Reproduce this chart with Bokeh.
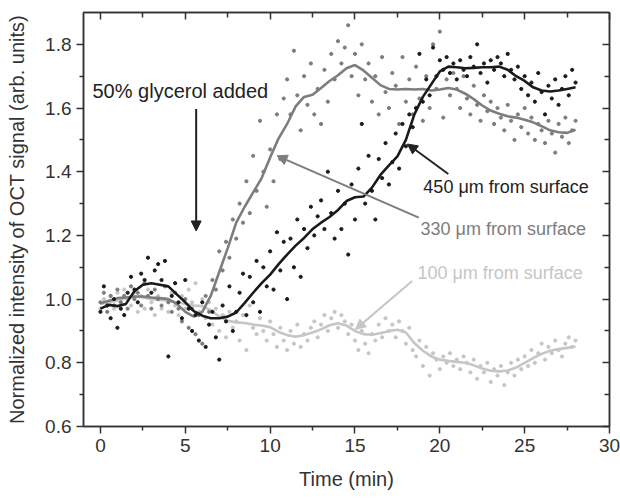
import numpy as np
from bokeh.plotting import figure
from bokeh.models import (LinearAxis, Range1d, Arrow, NormalHead, Label,
                          FixedTicker, PrintfTickFormatter, CustomJSTickFormatter)
from bokeh.embed import file_html
from bokeh.resources import INLINE

# ---------------- data ----------------
# smoothed curves, sampled every 0.5 min from 0 to 28 min
LINE_T = [0.5 * i for i in range(57)]
LINE_450 = [0.970, 0.982, 0.978, 0.985, 1.025, 1.045, 1.050, 1.045, 1.040, 1.015,
            0.990, 0.962, 0.948, 0.940, 0.940, 0.945, 0.958, 0.988, 1.020, 1.050,
            1.077, 1.110, 1.140, 1.168, 1.192, 1.220, 1.240, 1.258, 1.280, 1.308,
            1.320, 1.322, 1.350, 1.390, 1.420, 1.448, 1.500, 1.580, 1.635, 1.675,
            1.715, 1.730, 1.728, 1.725, 1.726, 1.728, 1.728, 1.730, 1.720, 1.700,
            1.685, 1.665, 1.655, 1.652, 1.655, 1.660, 1.665]
LINE_330 = [0.987, 0.995, 1.003, 1.005, 1.008, 1.008, 1.005, 1.003, 1.000, 0.985,
            0.960, 0.945, 0.960, 1.010, 1.085, 1.160, 1.240, 1.290, 1.335, 1.380,
            1.445, 1.505, 1.550, 1.605, 1.635, 1.642, 1.663, 1.685, 1.703, 1.725,
            1.735, 1.718, 1.695, 1.672, 1.660, 1.658, 1.660, 1.658, 1.660, 1.655,
            1.658, 1.663, 1.658, 1.645, 1.628, 1.608, 1.592, 1.582, 1.574, 1.570,
            1.563, 1.555, 1.543, 1.530, 1.524, 1.522, 1.532]
LINE_100 = [0.985, 0.990, 0.995, 1.003, 1.008, 1.005, 1.000, 0.997, 0.995, 0.990,
            0.985, 0.980, 0.978, 0.965, 0.945, 0.932, 0.927, 0.925, 0.920, 0.917,
            0.912, 0.897, 0.887, 0.882, 0.887, 0.895, 0.905, 0.918, 0.924, 0.917,
            0.900, 0.890, 0.888, 0.893, 0.900, 0.904, 0.895, 0.862, 0.838, 0.820,
            0.810, 0.806, 0.803, 0.800, 0.792, 0.782, 0.775, 0.773, 0.776, 0.785,
            0.800, 0.815, 0.828, 0.838, 0.843, 0.847, 0.851]

# raw measurements, one every 0.2 min from 0 to 28 min
PTS_450 = [0.96, 1.04, 0.98, 0.94, 1.00, 0.91, 0.97, 0.95, 1.02, 1.07,
           1.03, 0.99, 1.08, 1.06, 1.13, 1.02, 1.09, 1.11, 1.06, 1.12,
           0.82, 1.01, 1.05, 0.99, 0.94, 1.06, 0.97, 0.90, 0.95, 0.87,
           0.99, 0.85, 0.92, 0.96, 0.88, 0.81, 0.98, 0.93, 1.04, 0.90,
           0.96, 1.02, 1.08, 0.95, 1.07, 0.99, 1.12, 0.96, 1.10, 1.04,
           1.15, 1.03, 1.21, 1.09, 1.18, 1.00, 1.19, 1.10, 1.25, 1.07,
           1.22, 1.16, 1.29, 1.20, 1.26, 1.31, 1.22, 1.40, 1.27, 1.19,
           1.34, 1.22, 1.30, 1.14, 1.36, 1.25, 1.41, 1.55, 1.30, 1.45,
           1.34, 1.25, 1.44, 1.38, 1.49, 1.36, 1.43, 1.52, 1.41, 1.55,
           1.48, 1.58, 1.54, 1.60, 1.77, 1.62, 1.69, 1.64, 1.79, 1.70,
           1.75, 1.72, 1.76, 1.71, 1.74, 1.69, 1.75, 1.72, 1.70, 1.76,
           1.73, 1.80, 1.71, 1.74, 1.68, 1.75, 1.72, 1.76, 1.74, 1.70,
           1.77, 1.72, 1.69, 1.73, 1.66, 1.70, 1.64, 1.68, 1.62, 1.71,
           1.65, 1.58, 1.67, 1.63, 1.69, 1.61, 1.66, 1.70, 1.64, 1.72,
           1.68]
PTS_330 = [0.99, 1.02, 0.96, 1.01, 0.98, 1.03, 0.99, 1.01, 0.97, 1.04,
           1.00, 1.02, 0.98, 1.05, 1.01, 0.97, 1.03, 1.00, 0.98, 1.04,
           0.99, 0.96, 1.02, 0.97, 0.93, 1.00, 0.91, 0.97, 0.89, 0.95,
           0.86, 1.01, 0.96, 1.06, 1.03, 1.15, 1.09, 1.18, 1.13, 1.25,
           1.19, 1.30, 1.24, 1.37, 1.27, 1.45, 1.34, 1.56, 1.40, 1.29,
           1.47, 1.37, 1.58, 1.44, 1.63, 1.69, 1.58, 1.78, 1.64, 1.53,
           1.70, 1.61, 1.74, 1.58, 1.66, 1.55, 1.72, 1.62, 1.77, 1.69,
           1.81, 1.74, 1.79, 1.86, 1.70, 1.77, 1.64, 1.80, 1.69, 1.74,
           1.62, 1.70, 1.58, 1.76, 1.65, 1.60, 1.71, 1.67, 1.55, 1.76,
           1.62, 1.69, 1.58, 1.73, 1.63, 1.56, 1.70, 1.60, 1.80, 1.66,
           1.84, 1.57, 1.69, 1.64, 1.71, 1.66, 1.60, 1.70, 1.63, 1.58,
           1.67, 1.61, 1.56, 1.64, 1.59, 1.62, 1.55, 1.60, 1.57, 1.53,
           1.61, 1.56, 1.50, 1.58, 1.54, 1.60, 1.52, 1.57, 1.50, 1.55,
           1.53, 1.49, 1.56, 1.52, 1.46, 1.55, 1.51, 1.57, 1.49, 1.53,
           1.56]
PTS_100 = [0.97, 1.00, 0.98, 1.01, 0.97, 1.02, 0.99, 1.03, 1.00, 0.98,
           1.02, 0.96, 1.01, 0.97, 1.03, 0.99, 0.95, 1.01, 0.97, 1.00,
           0.96, 1.02, 0.98, 0.95, 1.01, 0.97, 1.03, 0.99, 1.05, 0.96,
           1.00, 0.94, 0.99, 0.92, 0.97, 0.90, 0.95, 0.88, 0.96, 0.91,
           0.93, 0.87, 0.95, 0.84, 0.98, 0.91, 0.89, 0.94, 0.90, 0.87,
           0.93, 0.89, 0.85, 0.91, 0.87, 0.84, 0.90, 0.86, 0.92, 0.85,
           0.89, 0.87, 0.91, 0.93, 0.88, 0.92, 0.95, 0.90, 0.94, 0.96,
           0.91, 0.95, 0.93, 0.89, 0.92, 0.87, 0.84, 0.90, 0.86, 0.83,
           0.89, 0.87, 0.92, 0.88, 0.94, 0.90, 0.92, 0.88, 0.93, 0.90,
           0.86, 0.91, 0.84, 0.82, 0.87, 0.79, 0.85, 0.76, 0.83, 0.81,
           0.78, 0.82, 0.80, 0.83, 0.79, 0.81, 0.78, 0.82, 0.80, 0.77,
           0.81, 0.75, 0.79, 0.77, 0.80, 0.74, 0.78, 0.76, 0.79, 0.73,
           0.77, 0.80, 0.76, 0.81, 0.78, 0.82, 0.79, 0.84, 0.80, 0.83,
           0.86, 0.81, 0.85, 0.83, 0.87, 0.84, 0.82, 0.86, 0.88, 0.85,
           0.87]

X_TICKS = [0, 5, 10, 15, 20, 25, 30]
X_MINOR = [2.5, 7.5, 12.5, 17.5, 22.5, 27.5]
Y_TICKS = [0.6, 0.8, 1.0, 1.2, 1.4, 1.6, 1.8]
Y_MINOR = [0.7, 0.9, 1.1, 1.3, 1.5, 1.7]

X_LABEL = "Time (min)"
Y_LABEL = "Normalized intensity of OCT signal (arb. units)"

C450, C330, C100 = "#1a1a1a", "#7d7d7d", "#c6c6c6"
FONT = "Liberation Sans"
AX = "#333333"


def times(vals, step=0.2):
    return [round(step * i, 2) for i in range(len(vals))]


p = figure(width=620, height=498, x_range=Range1d(-1, 30), y_range=Range1d(0.6, 1.9),
           output_backend="svg", toolbar_location=None,
           min_border_left=83, min_border_right=11, min_border_top=12, min_border_bottom=72)
p.grid.visible = False
p.outline_line_color = AX
p.outline_line_width = 1.5
p.background_fill_color = "white"
p.border_fill_color = "white"

xt = FixedTicker(ticks=X_TICKS, minor_ticks=X_MINOR)
yt = FixedTicker(ticks=Y_TICKS, minor_ticks=Y_MINOR)

for ax in (p.xaxis[0], p.yaxis[0]):
    ax.axis_line_color = AX
    ax.axis_line_width = 1.5
    ax.major_tick_line_color = AX
    ax.minor_tick_line_color = AX
    ax.major_tick_line_width = 1.5
    ax.minor_tick_line_width = 1.5
    ax.major_tick_in = 0
    ax.major_tick_out = 7
    ax.minor_tick_in = 0
    ax.minor_tick_out = 4
    ax.major_label_text_font = FONT
    ax.major_label_text_font_size = "19px"
    ax.major_label_text_color = AX
    ax.axis_label_text_font = FONT
    ax.axis_label_text_font_size = "20px"
    ax.axis_label_text_font_style = "normal"
    ax.axis_label_text_color = AX

p.xaxis[0].ticker = xt
p.yaxis[0].ticker = yt
p.xaxis[0].axis_label = X_LABEL
p.yaxis[0].axis_label = Y_LABEL
p.yaxis[0].formatter = PrintfTickFormatter(format="%.1f")
p.xaxis[0].major_label_standoff = 5
p.xaxis[0].axis_label_standoff = 13
p.yaxis[0].major_label_standoff = 5
p.yaxis[0].axis_label_standoff = 14

blank = CustomJSTickFormatter(code="return '';")
for loc, tk in (("right", yt), ("above", xt)):
    a = LinearAxis(ticker=tk, formatter=blank, major_label_standoff=0,
                   axis_line_color=AX, axis_line_width=1.5,
                   major_tick_line_color=AX, minor_tick_line_color=AX,
                   major_tick_line_width=1.5, minor_tick_line_width=1.5,
                   major_tick_in=7, major_tick_out=0, minor_tick_in=5, minor_tick_out=0)
    p.add_layout(a, loc)

# 100 um
p.scatter(times(PTS_100), PTS_100, size=3.2, marker="circle", color=C100)
p.line(LINE_T, LINE_100, line_width=2.6, color=C100)
# 330 um
p.scatter(times(PTS_330), PTS_330, size=3.2, marker="circle", color=C330)
p.line(LINE_T, LINE_330, line_width=2.6, color=C330)
# 450 um
p.scatter(times(PTS_450), PTS_450, size=3.2, marker="circle", color=C450)
p.line(LINE_T, LINE_450, line_width=2.6, color=C450)

# annotations
def arrow(x0, y0, x1, y1, col):
    p.add_layout(Arrow(x_start=x0, y_start=y0, x_end=x1, y_end=y1,
                       line_color=col, line_width=2,
                       end=NormalHead(size=10, fill_color=col, line_color=col, line_width=1)))

arrow(5.64, 1.597, 5.64, 1.214, "#222222")
arrow(20.5, 1.393, 18.09, 1.487, "#222222")
arrow(18.76, 1.256, 10.41, 1.45, C330)
arrow(18.37, 1.057, 15.03, 0.905, C100)

def label(x, y, txt, col, size):
    p.add_layout(Label(x=x, y=y, text=txt, text_color=col, text_font=FONT,
                       text_font_size=size, text_baseline="middle", text_align="left"))

label(-0.47, 1.654, "50% glycerol added", "#222222", "20px")
label(19.03, 1.352, "450 μm from surface", "#222222", "18px")
label(18.86, 1.22, "330 μm from surface", C330, "18px")
label(18.68, 1.082, "100 μm from surface", C100, "18px")

open("out.html", "w").write(file_html(p, INLINE))
